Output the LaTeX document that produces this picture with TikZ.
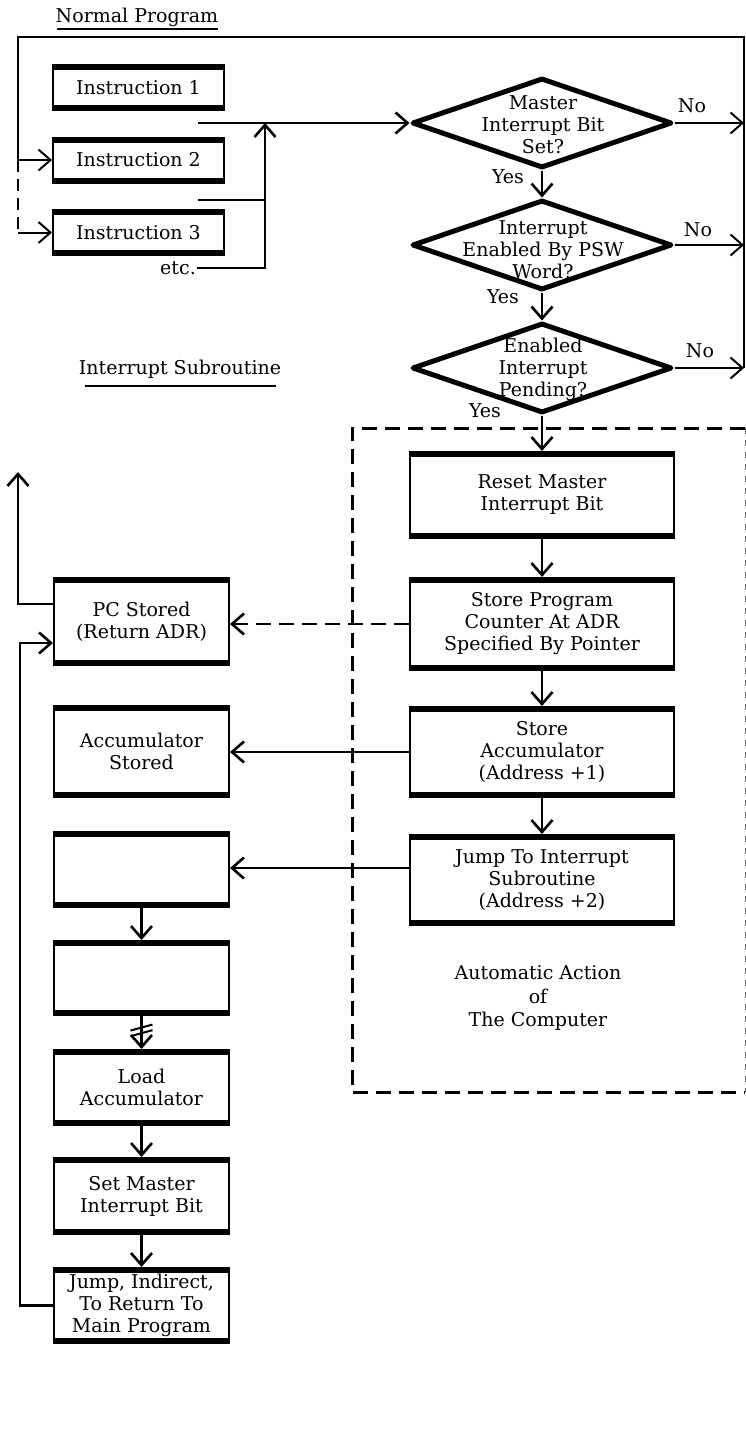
\documentclass[tikz,border=0pt]{standalone}
\usepackage{fontspec}
\setmainfont{DejaVu Serif}
\usetikzlibrary{arrows.meta,shapes.geometric,calc}
\begin{document}
\begin{tikzpicture}[x=1pt,y=-1pt,
  font=\fontsize{19}{22}\selectfont,
  blk/.style={draw, line width=2pt, align=center, inner sep=0pt,
    path picture={
      \fill ([yshift=2pt]path picture bounding box.north west) rectangle ([yshift=-5pt]path picture bounding box.north east);
      \fill ([yshift=-2pt]path picture bounding box.south west) rectangle ([yshift=5pt]path picture bounding box.south east);}},
  ibox/.style={blk, minimum width=171pt, minimum height=45pt},
  rbox/.style={blk, minimum width=264pt},
  lbox/.style={blk, minimum width=175pt},
  dia/.style={shape=diamond, draw, line width=5pt, line join=round, minimum width=260pt, minimum height=90pt, inner sep=0pt},
  conn/.style={line width=2.6pt},
  thinconn/.style={line width=2pt},
  arr/.style={conn, -{Straight Barb[length=12pt,width=21pt]}},
  thinarr/.style={thinconn, -{Straight Barb[length=12pt,width=21pt]}},
  dashln/.style={dash pattern=on 15pt off 8pt},
  lbl/.style={inner sep=1pt}
]
\useasboundingbox (0,0) rectangle (746,1440);

% titles
\node[lbl] (np) at (137,17) {Normal Program};
\draw[line width=1.8pt] (57,29) -- (218,29);
\node[lbl] (isub) at (180,369) {Interrupt Subroutine};
\draw[line width=1.8pt] (85,386) -- (276,386);

% dashed region
\coordinate (bx1) at (352,428);
\coordinate (bx2) at (745,1092);
\draw[line width=3pt, dashln] (bx2 |- bx1) -- (bx1) -- (bx1 |- bx2) -- (bx2);
\draw[line width=0.8pt, dash pattern=on 6pt off 6pt, black!60] (bx2 |- bx1) -- (bx2);
\node[align=center, font=\fontsize{19}{23.5}\selectfont] (auto) at (538,998) {Automatic Action\\of\\The Computer};

% normal program boxes
\node[ibox] (i1) at (138.5,87.5) {Instruction 1};
\node[ibox] (i2) at (138.5,160) {Instruction 2};
\node[ibox] (i3) at (138.5,232.5) {Instruction 3};
\node[anchor=east, lbl] (etc) at (197,268) {etc.};

% decisions
\node[dia] (d1) at (542,123) {};
\node[dia] (d2) at (542,245) {};
\node[dia] (d3) at (542,368) {};
\node[align=center] (t1) at (543,125) {Master\\Interrupt Bit\\Set?};
\node[align=center] (t2) at (543,250) {Interrupt\\Enabled By PSW\\Word?};
\node[align=center] (t3) at (543,369) {Enabled\\Interrupt\\Pending?};
\node[lbl] (no1) at (692,106) {No};
\node[lbl] (no2) at (698,230) {No};
\node[lbl] (no3) at (700,351) {No};
\node[lbl] (y1) at (508,177) {Yes};
\node[lbl] (y2) at (503,297) {Yes};
\node[lbl] (y3) at (485,411) {Yes};

% automatic action boxes
\node[rbox, minimum height=86pt] (r1) at (542,495) {Reset Master\\Interrupt Bit};
\node[rbox, minimum height=92pt] (r2) at (542,624) {Store Program\\Counter At ADR\\Specified By Pointer};
\node[rbox, minimum height=90pt] (r3) at (542,752) {Store\\Accumulator\\(Address +1)};
\node[rbox, minimum height=90pt] (r4) at (542,880) {Jump To Interrupt\\Subroutine\\(Address +2)};

% subroutine boxes
\node[lbox, minimum height=87pt] (l1) at (141.5,621.5) {PC Stored\\(Return ADR)};
\node[lbox, minimum height=91pt] (l2) at (141.5,751.5) {Accumulator\\Stored};
\node[lbox, minimum height=75pt] (l3) at (141.5,869.5) {};
\node[lbox, minimum height=74pt] (l4) at (141.5,978) {};
\node[lbox, minimum height=75pt] (l5) at (141.5,1087.5) {Load\\Accumulator};
\node[lbox, minimum height=76pt] (l6) at (141.5,1196) {Set Master\\Interrupt Bit};
\node[lbox, minimum height=75pt] (l7) at (141.5,1305.5) {Jump, Indirect,\\To Return To\\Main Program};

% coordinates for free ends
\coordinate (rx) at (744,37);
\coordinate (lx) at (18,37);
\coordinate (a1) at (198,123);
\coordinate (a2) at (198,200);
\coordinate (vx) at (265,270);
\coordinate (rin) at (20,643);
\coordinate (uptip) at (18,472);

% program flow into decision
\draw[arr] (a1) -- (d1.west);
\draw[conn] (a2) -- (a2 -| vx);
\draw[arr] (etc.east) -- (etc.east -| vx) -- (vx |- d1.west);

% decision chain
\draw[arr] (d1.south) -- (d2.north);
\draw[arr] (d2.south) -- (d3.north);
\draw[arr] (d3.south) -- (r1.north);
\draw[thinarr] (d1.east) -- (d1.east -| rx);
\draw[thinarr] (d2.east) -- (d2.east -| rx);
\draw[thinarr] (d3.east) -- (d3.east -| rx);

% return loop to normal program
\draw[thinconn] (d3.east -| rx) -- (rx) -- (lx) -- (lx |- i2.west);
\draw[thinarr] (lx |- i2.west) -- (i2.west);
\draw[conn, dash pattern=on 12pt off 7pt] (lx |- i2.west) -- (lx |- i3.west);
\draw[thinarr] (lx |- i3.west) -- (i3.west);

% automatic chain
\draw[arr] (r1.south) -- (r2.north);
\draw[arr] (r2.south) -- (r3.north);
\draw[arr] (r3.south) -- (r4.north);

% to subroutine
\draw[arr, dashln] (r2.west) -- (r2.west -| l1.east);
\draw[arr] (r3.west) -- (r3.west -| l2.east);
\draw[arr] ([yshift=12pt]r4.west) -- ([yshift=12pt]r4.west -| l3.east);

% subroutine chain
\draw[arr] (l3.south) -- (l4.north);
\draw[arr] (l4.south) -- (l5.north);
\draw[line width=2pt] ($(l4.south)!0.35!(l5.north)+(-11,3)$) -- ++(22,-6);
\draw[line width=2pt] ($(l4.south)!0.52!(l5.north)+(-11,3)$) -- ++(22,-6);
\draw[arr] (l5.south) -- (l6.north);
\draw[arr] (l6.south) -- (l7.north);

% loops on the left
\draw[arr] (l7.west) -- (l7.west -| rin) -- (rin) -- (rin -| l1.west);
\draw[arr] ([yshift=17.5pt]l1.west) -- ([yshift=17.5pt]l1.west -| uptip) -- (uptip);
\end{tikzpicture}
\end{document}
